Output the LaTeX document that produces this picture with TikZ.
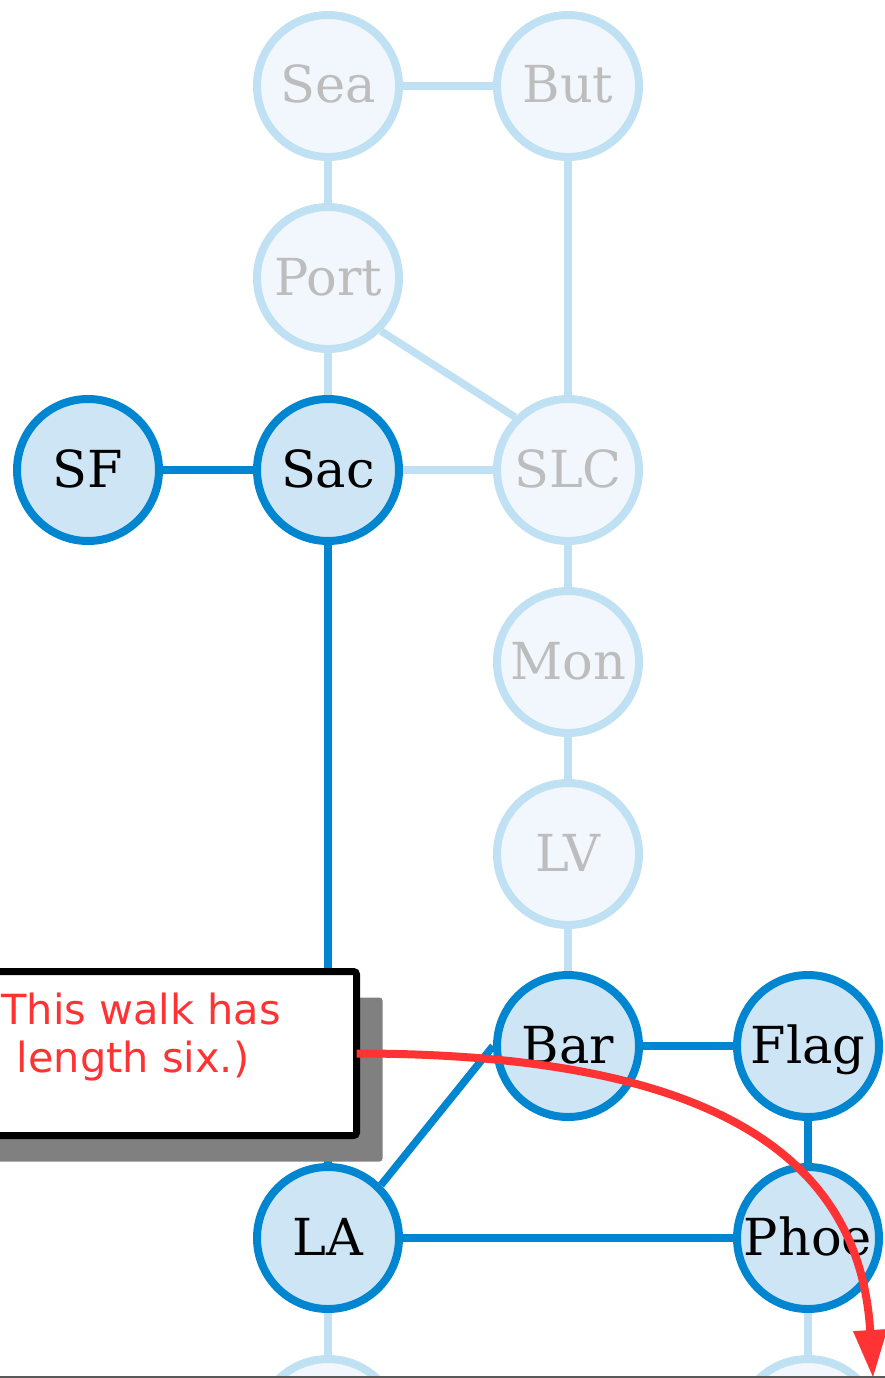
\documentclass[tikz,border=0pt]{standalone}
\usepackage{fontspec}
\setmainfont{DejaVu Serif}
\newfontfamily\calloutfont{DejaVu Sans}
\usepackage{tikz}
\usetikzlibrary{positioning,arrows.meta,backgrounds,shadows}
\definecolor{walk}{HTML}{0086D1}
\definecolor{walkfill}{HTML}{CDE5F4}
\definecolor{idle}{HTML}{C0E0F3}
\definecolor{idlefill}{HTML}{F1F7FC}
\definecolor{idletext}{HTML}{BDBDBD}
\definecolor{note}{HTML}{FF3333}

\begin{document}
\begin{tikzpicture}[
    x=1pt, y=-1pt,
    base/.style = {circle, line width=8pt, node distance=240pt, minimum size=142pt, inner sep=0pt, text height=37pt, text depth=3pt, font=\fontsize{51pt}{60pt}\selectfont},
    city/.style = {base, draw=walk, fill=walkfill, text=black},
    ghost/.style = {base, draw=idle, fill=idlefill, text=idletext},
    road/.style = {line width=7.5pt, draw=walk},
    faded/.style = {line width=7.5pt, draw=idle},
    callout/.style = {rectangle, draw=black, line width=7pt, outer sep=0pt, fill=white, rounded corners=3pt, minimum width=447pt, minimum height=164pt, drop shadow={shadow xshift=26pt, shadow yshift=-26pt, fill=black!50, opacity=1}},
    notetext/.style = {inner sep=0pt, align=center, text=note, font=\calloutfont\fontsize{41.5pt}{48pt}\selectfont},
    walkarrow/.style = {draw=note, line width=8pt, -{Triangle[length=48pt, width=32pt]}},
]
    \useasboundingbox (0,0) rectangle (885,1378);

    % top rows
    \node[ghost] (sea) at (328,86) {Sea};
    \node[ghost, right of = sea] (but) {But};
    \node[ghost, below of = sea, node distance=192pt] (port) {Port};
    \node[city, below of = port, node distance=192pt] (sac) {Sac};
    \node[city, left of = sac] (sf) {SF};
    \node[ghost, right of = sac] (slc) {SLC};
    \node[ghost, below of = slc, node distance=192pt] (mon) {Mon};
    \node[ghost, below of = mon, node distance=192pt] (lv) {LV};

    % bottom rows
    \node[city, below of = lv, node distance=192pt] (bar) {Bar};
    \node[city, right of = bar] (flag) {Flag};
    \node[city, below of = flag, node distance=192pt] (phoe) {Phoe};
    \node[city, left of = phoe, node distance=480pt] (la) {LA};
    \node[ghost, below of = la, node distance=192pt] (sd) {};
    \node[ghost, below of = phoe, node distance=192pt] (tuc) {};

    % roads
    \begin{scope}[on background layer]
        \draw[faded] (sea) -- (but);
        \draw[faded] (sea) -- (port);
        \draw[faded] (port) -- (sac);
        \draw[faded] (port.south east) -- (slc.north west);
        \draw[faded] (but) -- (slc);
        \draw[faded] (sac) -- (slc);
        \draw[faded] (slc) -- (mon);
        \draw[faded] (mon) -- (lv);
        \draw[faded] (lv) -- (bar);
        \draw[faded] (la) -- (sd);
        \draw[faded] (phoe) -- (tuc);
        \draw[road] (sf) -- (sac);
        \draw[road] (sac) -- (la);
        \draw[road] (la.north east) -- (bar.west);
        \draw[road] (bar) -- (flag);
        \draw[road] (flag) -- (phoe);
        \draw[road] (la) -- (phoe);
    \end{scope}

    % callout
    \node[callout] (walkbox) at (133,1053.5) {};
    \node[notetext] (walktext) at ([yshift=16pt]walkbox.center) {(This walk has\\length six.)};
    \coordinate (walkend) at (873,1378);
    \draw[walkarrow] (walkbox.east) .. controls +(363,0) and +(-13,-218) .. (walkend);

    % frame
    \draw[line width=2pt, draw=black!65] (0,1377) -- (885,1377);

\end{tikzpicture}
\end{document}
